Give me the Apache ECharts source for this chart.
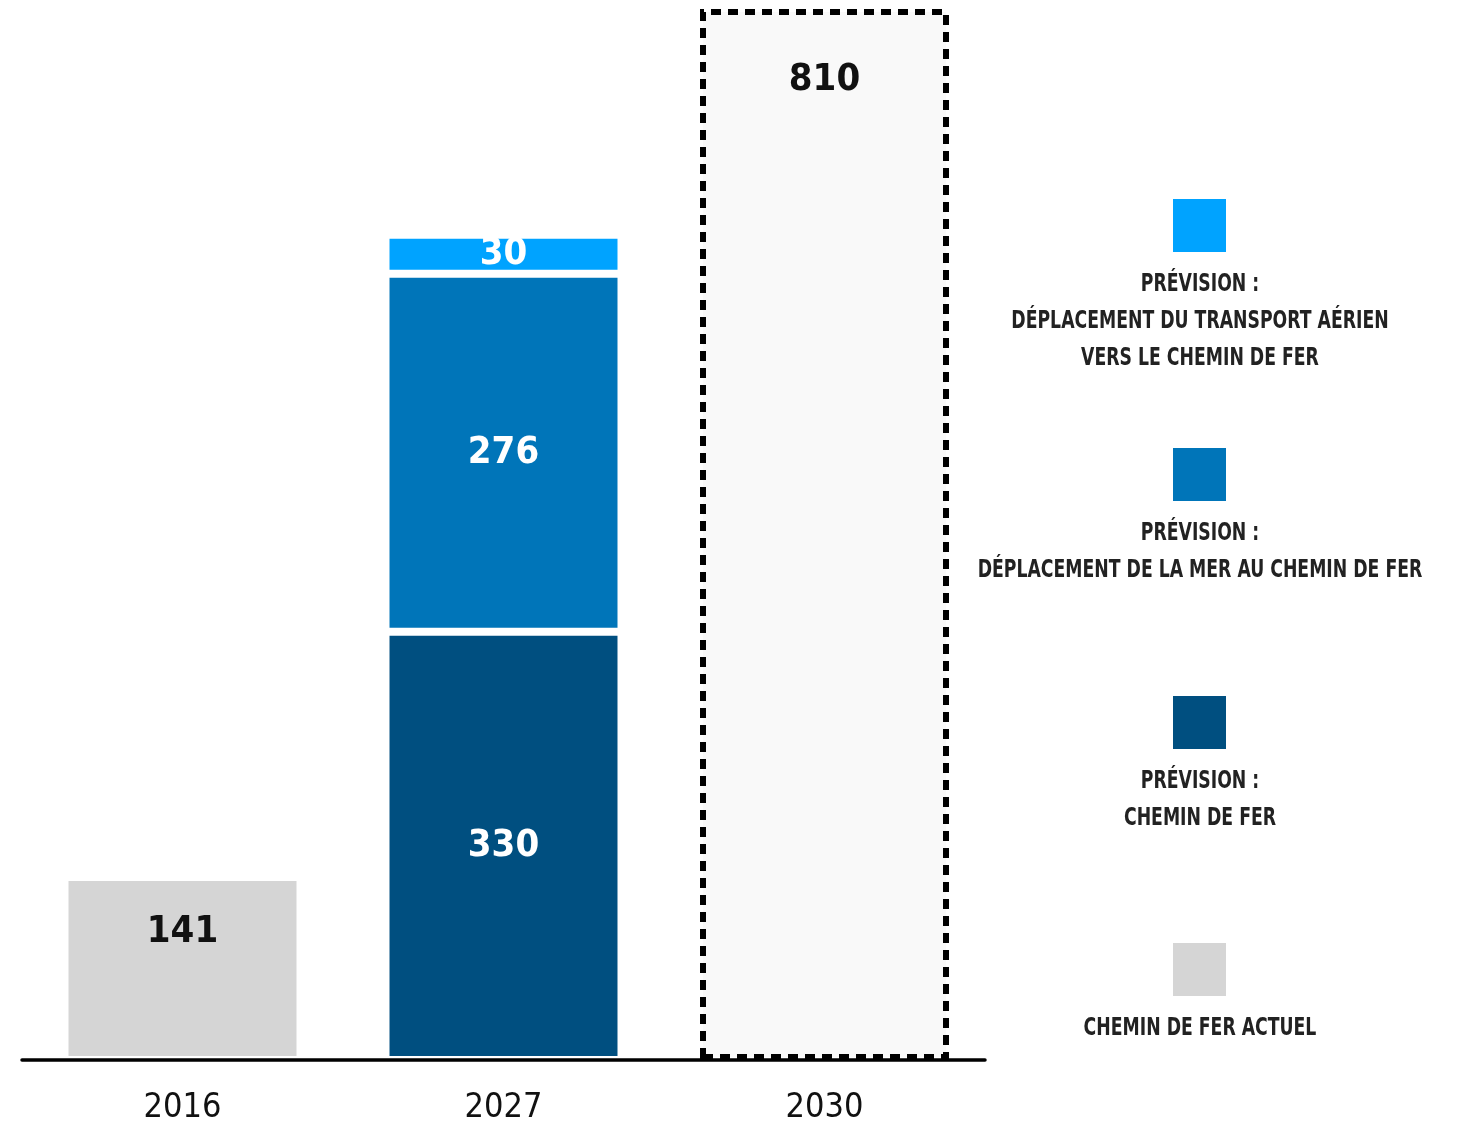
<!DOCTYPE html>
<html>
<head>
<meta charset="utf-8">
<script src="https://cdn.jsdelivr.net/npm/echarts@6/dist/echarts.min.js"></script>
<style>
html,body{margin:0;padding:0;background:#fff;}
#c{width:1458px;height:1126px;}
</style>
</head>
<body>
<div id="c"></div>
<script>
const categories = ['2016', '2027', '2030'];
const cheminActuel = [141, '-', '-'];
const previsionFer = ['-', 330, '-'];
const previsionMer = ['-', 276, '-'];
const previsionAir = ['-', 30, '-'];
const total2030 = ['-', '-', 810];

const legendNames = [
  'PRÉVISION :\nDÉPLACEMENT DU TRANSPORT AÉRIEN\nVERS LE CHEMIN DE FER',
  'PRÉVISION :\nDÉPLACEMENT DE LA MER AU CHEMIN DE FER',
  'PRÉVISION :\nCHEMIN DE FER',
  'CHEMIN DE FER ACTUEL'
];
const legendColors = ['#00a3ff', '#0075b9', '#004f80', '#d5d5d5'];

const FONT = '"DejaVu Sans Condensed", "DejaVu Sans", sans-serif';
const chart = echarts.init(document.getElementById('c'), null, {renderer: 'canvas'});

const BW = 236;
function segStyle(color) {
  return {color: color, borderColor: '#ffffff', borderWidth: 4};
}
function lbl(color, pos, dist) {
  return {
    show: true, position: pos, distance: dist || 0,
    color: color, fontFamily: FONT, fontWeight: 'bold', fontSize: 38, lineHeight: 38
  };
}

const legendTops = [199, 448, 696, 943];
const graphics = [];
legendNames.forEach((name, i) => {
  graphics.push({
    type: 'rect', left: 1173, top: legendTops[i],
    shape: {width: 53, height: 53},
    style: {fill: legendColors[i]}
  });
  graphics.push({
    type: 'text', x: 1200, y: legendTops[i] + 53 + 14, scaleX: 0.8,
    style: {
      text: name, textAlign: 'center', textVerticalAlign: 'top',
      fill: '#222', font: 'bold 24px ' + FONT, lineHeight: 37
    }
  });
});

chart.setOption({
  animation: false,
  backgroundColor: '#ffffff',
  grid: {left: 22, right: 473, top: 9, bottom: 66, containLabel: false},
  xAxis: [{
    type: 'category', data: categories, z: 5,
    axisLine: {show: true, lineStyle: {color: '#000', width: 3.5}},
    axisTick: {show: false},
    axisLabel: {color: '#111', fontFamily: FONT, fontSize: 34, margin: 31}
  }, {
    type: 'category', data: categories, show: false, position: 'bottom'
  }],
  yAxis: {
    type: 'value', min: 0, max: 810, show: false,
    splitLine: {show: false}
  },
  series: [
    {type: 'bar', stack: 's', barWidth: BW, data: cheminActuel,
      itemStyle: segStyle('#d5d5d5'), label: lbl('#111', 'insideTop', 36)},
    {type: 'bar', stack: 's', barWidth: BW, data: previsionFer,
      itemStyle: segStyle('#004f80'), label: lbl('#fff', 'inside')},
    {type: 'bar', stack: 's', barWidth: BW, data: previsionMer,
      itemStyle: segStyle('#0075b9'), label: lbl('#fff', 'inside')},
    {type: 'bar', stack: 's', barWidth: BW, data: previsionAir,
      itemStyle: segStyle('#00a3ff'), label: lbl('#fff', 'inside')},
    {type: 'bar', xAxisIndex: 1, barWidth: 249, data: total2030,
      itemStyle: {color: '#f9f9f9', borderColor: '#000', borderWidth: 6, borderType: [10, 7]},
      label: lbl('#111', 'insideTop', 52)}
  ],
  graphic: graphics
});
</script>
</body>
</html>
